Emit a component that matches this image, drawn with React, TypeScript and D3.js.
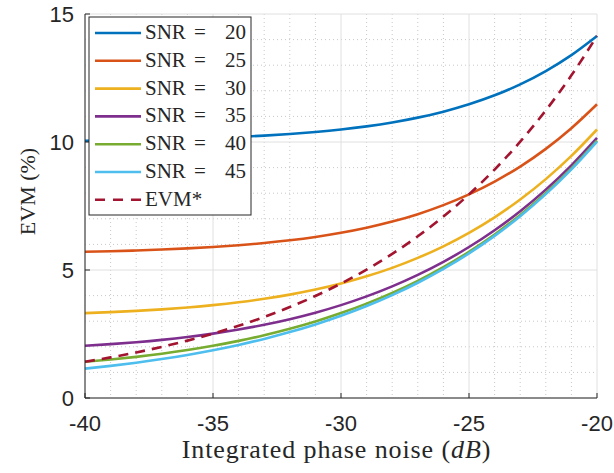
import React from "react";
import * as d3 from "d3";

const xValues = [-40, -39, -38, -37, -36, -35, -34, -33, -32, -31, -30, -29, -28, -27, -26, -25, -24, -23, -22, -21, -20];
const snr20 = [10.05, 10.063, 10.079, 10.099, 10.125, 10.157, 10.197, 10.248, 10.311, 10.39, 10.488, 10.611, 10.763, 10.952, 11.186, 11.473, 11.824, 12.252, 12.771, 13.395, 14.142];
const snr25 = [5.712, 5.734, 5.763, 5.798, 5.843, 5.898, 5.967, 6.053, 6.159, 6.29, 6.452, 6.649, 6.89, 7.181, 7.533, 7.953, 8.452, 9.041, 9.733, 10.538, 11.473];
const snr30 = [3.317, 3.355, 3.404, 3.463, 3.537, 3.628, 3.739, 3.875, 4.039, 4.236, 4.472, 4.753, 5.084, 5.473, 5.926, 6.451, 7.058, 7.754, 8.55, 9.457, 10.488];
const snr35 = [2.04, 2.103, 2.179, 2.271, 2.382, 2.515, 2.673, 2.859, 3.078, 3.332, 3.628, 3.969, 4.36, 4.808, 5.318, 5.898, 6.555, 7.299, 8.14, 9.088, 10.157];
const snr40 = [1.414, 1.503, 1.608, 1.731, 1.874, 2.04, 2.232, 2.452, 2.704, 2.99, 3.317, 3.686, 4.105, 4.577, 5.111, 5.712, 6.388, 7.15, 8.006, 8.968, 10.05];
const snr45 = [1.147, 1.255, 1.379, 1.52, 1.682, 1.865, 2.073, 2.308, 2.574, 2.874, 3.212, 3.593, 4.021, 4.502, 5.043, 5.651, 6.334, 7.102, 7.963, 8.93, 10.016];
const evmStar = [1.414, 1.587, 1.78, 1.997, 2.241, 2.515, 2.822, 3.166, 3.552, 3.986, 4.472, 5.018, 5.63, 6.317, 7.088, 7.953, 8.923, 10.012, 11.234, 12.604, 14.142];

const snrLevels = ["20", "25", "30", "35", "40", "45"];
const starName = "EVM*";
const seriesData = [snr20, snr25, snr30, snr35, snr40, snr45, evmStar];
const seriesColors = ["#0072BD", "#D95319", "#EDB120", "#7E2F8E", "#77AC30", "#4DBEEE", "#A2142F"];

const xTicks = [-40, -35, -30, -25, -20];
const yTicks = [0, 5, 10, 15];

const SANS = "'Liberation Sans', Arial, Helvetica, sans-serif";
const SERIF = "'Liberation Serif', 'Times New Roman', serif";

export default function App() {
  const W = 614, H = 473;
  const left = 85, right = 597, top = 14, bottom = 398;
  const x = d3.scaleLinear().domain([-40, -20]).range([left, right]);
  const y = d3.scaleLinear().domain([0, 15]).range([bottom, top]);
  const minorX = d3.range(-40, -19, 1);
  const minorY = d3.range(0, 16, 1);
  const line = d3.line<[number, number]>().x(d => x(d[0])).y(d => y(d[1])).curve(d3.curveMonotoneX);

  const legX = 89, legY = 17, legW = 162, legH = 198;
  const rowH = 27.8;

  return (
    <svg width={W} height={H} style={{ position: "absolute", left: 0, top: 0, background: "#fff" }}>
      <rect x={0} y={0} width={W} height={H} fill="#fff" />
      {/* minor grid */}
      {minorX.filter(v => v % 5 !== 0).map(v => (
        <line key={"mx" + v} x1={x(v)} x2={x(v)} y1={top} y2={bottom} stroke="#c8c8c8" strokeWidth={1} strokeDasharray="1,3" />
      ))}
      {minorY.filter(v => v % 5 !== 0).map(v => (
        <line key={"my" + v} x1={left} x2={right} y1={y(v)} y2={y(v)} stroke="#c8c8c8" strokeWidth={1} strokeDasharray="1,3" />
      ))}
      {/* major grid */}
      {xTicks.map(v => (
        <line key={"gx" + v} x1={x(v)} x2={x(v)} y1={top} y2={bottom} stroke="#e0e0e0" strokeWidth={1} />
      ))}
      {yTicks.map(v => (
        <line key={"gy" + v} x1={left} x2={right} y1={y(v)} y2={y(v)} stroke="#e0e0e0" strokeWidth={1} />
      ))}
      {/* series */}
      {seriesData.map((d, i) => (
        <path key={"s" + i} d={line(xValues.map((xv, j) => [xv, d[j]]) as [number, number][]) || ""}
          fill="none" stroke={seriesColors[i]} strokeWidth={2.6}
          strokeDasharray={i === 6 ? "10,7" : undefined} />
      ))}
      {/* axes */}
      <line x1={left} x2={right} y1={bottom} y2={bottom} stroke="#262626" strokeWidth={1} />
      <line x1={left} x2={left} y1={top} y2={bottom} stroke="#262626" strokeWidth={1} />
      {xTicks.map(v => (
        <g key={"tx" + v}>
          <line x1={x(v)} x2={x(v)} y1={bottom} y2={bottom - 5} stroke="#262626" />
          <text x={x(v)} y={bottom + 33} textAnchor="middle" fontFamily={SANS} fontSize={22} fill="#262626">{v}</text>
        </g>
      ))}
      {yTicks.map(v => (
        <g key={"ty" + v}>
          <line x1={left} x2={left + 5} y1={y(v)} y2={y(v)} stroke="#262626" />
          <text x={left - 11} y={y(v) + 8} textAnchor="end" fontFamily={SANS} fontSize={22} fill="#262626">{v}</text>
        </g>
      ))}
      {/* axis labels */}
      <text x={336.5} y={458} textAnchor="middle" fontFamily={SERIF} fontSize={26} letterSpacing={0.9} fill="#262626">
        Integrated phase noise (<tspan fontStyle="italic">dB</tspan>)
      </text>
      <text transform="translate(35,191.5) rotate(-90)" textAnchor="middle" fontFamily={SERIF} fontSize={22} fill="#262626">
        EVM (%)
      </text>
      {/* legend */}
      <rect x={legX} y={legY} width={legW} height={legH} fill="#fff" stroke="#262626" strokeWidth={1} />
      {seriesData.map((_, i) => {
        const cy = legY + 16 + i * rowH;
        return (
          <g key={"l" + i}>
            <line x1={95} x2={141} y1={cy} y2={cy} stroke={seriesColors[i]} strokeWidth={2.6} strokeDasharray={i === 6 ? "10,8" : undefined} />
            {i < 6 ? (
              <g fontFamily={SERIF} fontSize={21} fill="#262626">
                <text x={145} y={cy + 6}>SNR</text>
                <text x={194} y={cy + 6}>=</text>
                <text x={246} y={cy + 6} textAnchor="end">{snrLevels[i]}</text>
              </g>
            ) : (
              <text x={145} y={cy + 6} fontFamily={SERIF} fontSize={21} fill="#262626">{starName}</text>
            )}
          </g>
        );
      })}
    </svg>
  );
}
